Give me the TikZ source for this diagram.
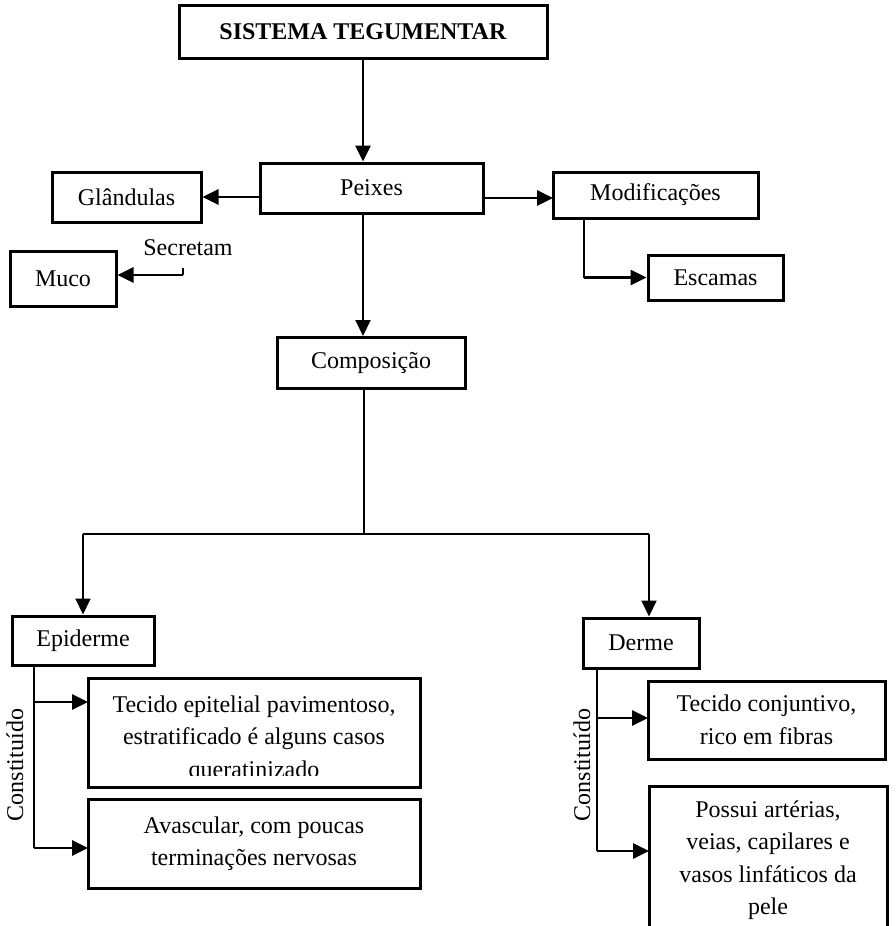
\documentclass[tikz,border=0pt]{standalone}
\usepackage{fontspec}
\setmainfont{Liberation Serif}
\usetikzlibrary{arrows.meta}
\begin{document}
\begin{tikzpicture}[x=1pt,y=-1pt,
  box/.style={draw, line width=3pt, inner sep=0pt, font=\fontsize{24}{32.5}\selectfont, align=center},
  txt/.style={inner sep=0pt, font=\fontsize{24}{32.5}\selectfont, align=center},
  arr/.style={line width=2.8pt, -{Triangle[length=16pt,width=15pt]}},
  conn/.style={line width=1.8pt},
  thinconn/.style={line width=1.1pt}
]
\useasboundingbox[fill=white] (0,0) rectangle (895,926);

% top level
\node[box, minimum width=368pt, minimum height=53pt] (sis) at (363,31.5) {\textbf{SISTEMA TEGUMENTAR}};
\node[box, minimum width=223pt, minimum height=50pt] (peixes) at (371.5,188) {Peixes};
\node[box, minimum width=149pt, minimum height=50pt] (glan) at (126.5,197) {Glândulas};
\node[box, minimum width=205pt, minimum height=46pt] (mod) at (655.5,195) {Modificações};
\node[box, minimum width=135pt, minimum height=45pt] (esc) at (715.5,277.5) {Escamas};
\node[box, minimum width=106pt, minimum height=55pt] (muco) at (63,278.5) {Muco};
\node[txt] (sec) at (188,248) {Secretam};
\coordinate (secend) at (183,268);
\coordinate (secjoin) at (183,275);
\coordinate (modv) at (584,218);
\coordinate (modin) at (553,198);
\node[box, minimum width=188pt, minimum height=51pt] (comp) at (371,363) {Composição};

\coordinate (split) at (364,534);
\coordinate (lj) at (83,534);
\coordinate (rj) at (649,534);

\node[box, minimum width=142pt, minimum height=49pt] (epi) at (83,640.5) {Epiderme};
\node[box, minimum width=116pt, minimum height=50pt] (der) at (641,643) {Derme};

% epiderme children
\node[box, minimum width=332pt, minimum height=109pt] (e1) at (254,732.5) {};
\begin{scope}
  \clip (90,680) rectangle (418,775);
  \node[txt] (e1t) at (254,739) {Tecido epitelial pavimentoso,\\estratificado é alguns casos\\queratinizado};
\end{scope}
\node[box, minimum width=332pt, minimum height=89pt] (e2) at (254,843.5) {Avascular, com poucas\\terminações nervosas};
\node[txt, rotate=90] (c1) at (15,765) {Constituído};
\coordinate (ev) at (34,665);
\coordinate (ea1) at (88,702);
\coordinate (ea2) at (88,848);

% derme children
\node[box, minimum width=237pt, minimum height=78pt] (d1) at (766.5,720) {Tecido conjuntivo,\\rico em fibras};
\node[box, minimum width=238pt, minimum height=154pt] (d2) at (768,863) {};
\node[txt] (d2t) at (768,860) {Possui artérias,\\veias, capilares e\\vasos linfáticos da\\pele};
\node[txt, rotate=90] (c2) at (582,765) {Constituído};
\coordinate (dv) at (597,668);
\coordinate (da1) at (648,718);
\coordinate (da2) at (649,851);

% connectors
\draw[arr] (sis.south) -- (sis.south |- peixes.north);
\draw[arr] (peixes.west |- glan.east) -- (glan.east);
\draw[arr] (peixes.east |- modin) -- (modin);
\draw[conn] (modv) -- (modv |- esc.west);
\draw[arr] (modv |- esc.west) -- (esc.west);
\draw[thinconn] (secend) -- (secjoin);
\draw[arr] (secjoin) -- (secjoin -| muco.east);
\draw[arr, line width=1.9pt] (sis.south |- peixes.south) -- (sis.south |- comp.north);
\draw[thinconn] (comp.south -| split) -- (split);
\draw[thinconn] (lj) -- (rj);
\draw[arr, line width=2pt] (lj) -- (lj |- epi.north);
\draw[arr, line width=2pt] (rj) -- (rj |- der.north);

\draw[conn] (ev) -- (ev |- ea2);
\draw[arr] (ev |- ea1) -- (ea1);
\draw[arr] (ev |- ea2) -- (ea2);

\draw[conn] (dv) -- (dv |- da2);
\draw[arr] (dv |- da1) -- (da1);
\draw[arr] (dv |- da2) -- (da2);
\end{tikzpicture}
\end{document}
